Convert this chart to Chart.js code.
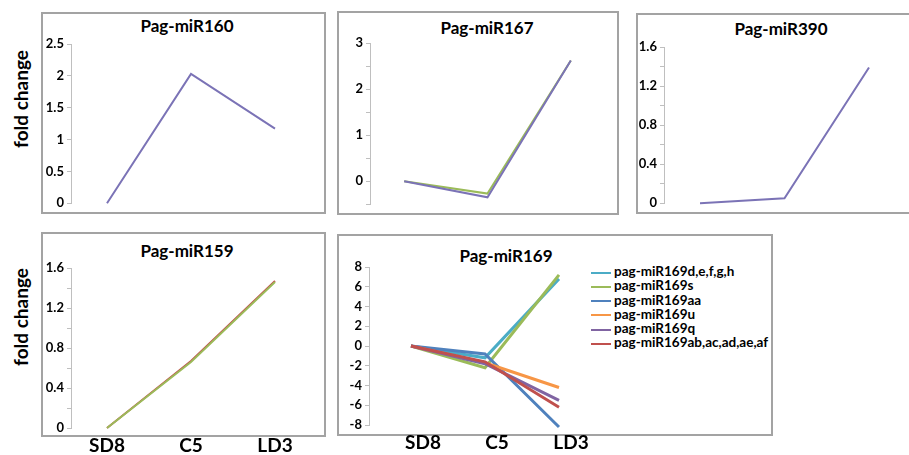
<!DOCTYPE html>
<html>
<head>
<meta charset="utf-8">
<script src="https://cdn.jsdelivr.net/npm/chart.js@4.4.1/dist/chart.umd.min.js"></script>
<style>
  body { margin: 0; background: #fff; width: 909px; height: 455px; overflow: hidden; position: relative; font-family: Lato, sans-serif; }
  .box { position: absolute; border: 2px solid #a3a3a3; box-sizing: border-box; }
  .title { position: absolute; font-weight: bold; font-size: 17px; transform: translate(-50%, -50%); white-space: nowrap; color: #000; }
  .ylab { position: absolute; font-weight: bold; font-size: 19px; transform: translate(-50%, -50%) rotate(-90deg); white-space: nowrap; }
  #legend { position: absolute; left: 591px; top: 264px; font-weight: bold; font-size: 13.5px; }
  #legend div { height: 14.3px; line-height: 14.3px; white-space: nowrap; }
  #legend span { display: inline-block; width: 20px; height: 2px; vertical-align: middle; margin-right: 3px; }
</style>
</head>
<body>
<div class="ylab" style="left:20px;top:99px">fold change</div>
<div class="ylab" style="left:20px;top:317px">fold change</div>
<div id="legend"></div>
<script>
const stages = ['SD8', 'C5', 'LD3'];

const mir160 = [0, 2.03, 1.17];
const mir167Green = [0, -0.27, 2.62];
const mir167Purple = [0, -0.35, 2.62];
const mir390 = [0, 0.05, 1.39];
const mir159Red = [0, 0.67, 1.47];
const mir159Green = [0, 0.66, 1.46];

const mir169Labels = ['pag-miR169d,e,f,g,h', 'pag-miR169s', 'pag-miR169aa', 'pag-miR169u', 'pag-miR169q', 'pag-miR169ab,ac,ad,ae,af'];
const mir169Dfgh = [0, -1.2, 6.8];
const mir169S = [0, -2.2, 7.2];
const mir169Aa = [0, -0.8, -8.2];
const mir169U = [0, -1.7, -4.2];
const mir169Q = [0, -1.8, -5.5];
const mir169Ab = [0, -1.6, -6.2];

const PURPLE = '#7b73b6';
const GREEN = '#9bbb59';
const RED = '#c0504d';
const mir169Colors = ['#4bacc6', '#9bbb59', '#4f81bd', '#f79646', '#8064a2', '#c0504d'];

const AXIS = '#bfbfbf';

function toPoints(arr) {
  return arr.map((v, i) => ({ x: i, y: v }));
}

function addDiv(cls, style, text) {
  const d = document.createElement('div');
  d.className = cls;
  Object.assign(d.style, style);
  if (text) d.textContent = text;
  document.body.appendChild(d);
  return d;
}

// box = drawn frame, area = wanted chart area (y axis x, top tick, right, bottom tick)
function panel(p) {
  const b = p.box, a = p.area;
  addDiv('box', { left: b.l + 'px', top: b.t + 'px', width: (b.r - b.l) + 'px', height: (b.b - b.t) + 'px' });
  addDiv('title', { left: p.titleAt[0] + 'px', top: p.titleAt[1] + 'px' }, p.title);

  const cx = b.l, cy = b.t, cw = b.r - b.l, ch = (p.xLabels ? 455 : b.b) - b.t;
  const wrap = document.createElement('div');
  wrap.style.cssText = `position:absolute;left:${cx}px;top:${cy}px;width:${cw}px;height:${ch}px`;
  const cv = document.createElement('canvas');
  wrap.appendChild(cv);
  document.body.appendChild(wrap);

  return new Chart(cv, {
    type: 'line',
    data: {
      datasets: p.series.map((s, i) => ({
        label: s.label || '',
        data: toPoints(s.data),
        borderColor: s.color,
        backgroundColor: s.color,
        borderWidth: p.lineWidth,
        pointRadius: 0,
        tension: 0,
        clip: false,
        order: p.series.length - i,
      })),
    },
    options: {
      responsive: true,
      maintainAspectRatio: false,
      animation: false,
      layout: { padding: { top: a.T - cy, right: cx + cw - a.R, left: 0, bottom: 0 } },
      plugins: { legend: { display: false }, tooltip: { enabled: false } },
      scales: {
        x: {
          type: 'linear',
          min: p.xMin,
          max: p.xMax,
          afterBuildTicks: (s) => { s.ticks = stages.map((_, i) => ({ value: i })); },
          afterFit: (s) => { s.height = cy + ch - a.B; },
          grid: { display: false, drawTicks: false },
          border: { display: false },
          ticks: {
            display: !!p.xLabels,
            padding: 6,
            labelOffset: p.xOffset || 0,
            color: '#000',
            font: { family: 'Lato', weight: 'bold', size: 19 },
            callback: (v) => stages[v],
          },
        },
        y: {
          min: p.yMin,
          max: p.yMax,
          afterFit: (s) => { s.width = a.L - cx; },
          grid: { drawOnChartArea: false, drawTicks: true, tickLength: 4, color: AXIS },
          border: { display: true, color: AXIS, width: 1 },
          ticks: {
            stepSize: p.step,
            padding: 3,
            color: '#000',
            font: { family: 'Lato', weight: 'bold', size: 13 },
            callback: (v) => (p.showTick(v) ? String(Math.round(v * 10) / 10) : ''),
          },
        },
      },
    },
  });
}

const every = () => true;
const byPoint4 = (v) => Math.round(v * 10) % 4 === 0;

panel({
  title: 'Pag-miR160', titleAt: [187, 25],
  box: { l: 41, t: 12, r: 326, b: 214 }, area: { L: 71, T: 44, R: 311, B: 206 },
  xMin: -0.4286, xMax: 2.4286, yMin: 0, yMax: 2.5, step: 0.5, showTick: every,
  lineWidth: 2, series: [{ data: mir160, color: PURPLE }],
});

panel({
  title: 'Pag-miR167', titleAt: [487, 27],
  box: { l: 337, t: 11, r: 619, b: 215 }, area: { L: 370, T: 43, R: 605, B: 206 },
  xMin: -0.41, xMax: 2.41, yMin: -0.5, yMax: 3, step: 0.5, showTick: (v) => Number.isInteger(v),
  lineWidth: 2, series: [{ data: mir167Green, color: GREEN }, { data: mir167Purple, color: PURPLE }],
});

panel({
  title: 'Pag-miR390', titleAt: [781, 28],
  box: { l: 636, t: 13, r: 915, b: 214 }, area: { L: 664, T: 47, R: 905, B: 205 },
  xMin: -0.426, xMax: 2.426, yMin: 0, yMax: 1.6, step: 0.2, showTick: byPoint4,
  lineWidth: 2, series: [{ data: mir390, color: PURPLE }],
});

panel({
  title: 'Pag-miR159', titleAt: [187, 250],
  box: { l: 41, t: 232, r: 326, b: 437 }, area: { L: 71, T: 268, R: 311, B: 428 },
  xMin: -0.4286, xMax: 2.4286, yMin: 0, yMax: 1.6, step: 0.2, showTick: byPoint4,
  xLabels: true,
  lineWidth: 2, series: [{ data: mir159Red, color: RED }, { data: mir159Green, color: GREEN }],
});

const mir169Data = [mir169Dfgh, mir169S, mir169Aa, mir169U, mir169Q, mir169Ab];
const c169 = panel({
  title: 'Pag-miR169', titleAt: [506, 255],
  box: { l: 337, t: 234, r: 773, b: 436 }, area: { L: 369, T: 267, R: 592, B: 425 },
  xMin: -0.5676, xMax: 2.446, yMin: -8, yMax: 8, step: 2, showTick: every,
  xLabels: true, xOffset: 12,
  lineWidth: 3,
  series: mir169Data.map((d, i) => ({ data: d, color: mir169Colors[i], label: mir169Labels[i] })),
});

// legend built from the chart's datasets
const legend = document.getElementById('legend');
c169.data.datasets.forEach((ds) => {
  const row = document.createElement('div');
  row.innerHTML = `<span style="background:${ds.borderColor}"></span>${ds.label}`;
  legend.appendChild(row);
});
</script>
</body>
</html>
